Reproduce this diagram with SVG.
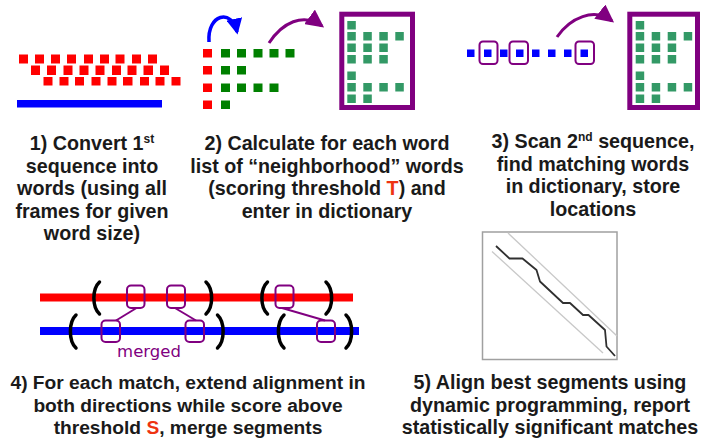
<svg xmlns="http://www.w3.org/2000/svg" width="704" height="441" viewBox="0 0 704 441">
<defs>
<style>
.red{fill:#ff0000}
.grn{fill:#008000}
.dg{fill:#339966}
.blu{fill:#0000ff}
.dict{fill:#ffffff;stroke:#800080;stroke-width:5}
.pbox{fill:none;stroke:#800080;stroke-width:2}
.plink{stroke:#800080;stroke-width:2;fill:none}
.brk{fill:none;stroke:#000;stroke-width:3.5;stroke-linecap:round}
.t{font-family:"Liberation Sans",Arial,sans-serif;font-weight:bold;font-size:19.7px;fill:#1a1a1a;text-anchor:middle}
.b4{font-size:19.2px}
.hl{fill:#ee3311}
.sup{font-size:12px}
.merged{font-family:"DejaVu Sans",sans-serif;font-size:16.5px;fill:#800080;text-anchor:middle}
</style>
<marker id="ahB" markerUnits="userSpaceOnUse" markerWidth="16" markerHeight="16" refX="10" refY="6" orient="auto" viewBox="0 0 12 12">
<path d="M0,0 L12,6 L0,12 z" fill="#0000ff"/>
</marker>
<marker id="ahP" markerUnits="userSpaceOnUse" markerWidth="18" markerHeight="18" refX="12" refY="7" orient="auto" viewBox="0 0 14 14">
<path d="M0,0 L14,7 L0,14 z" fill="#800080"/>
</marker>
<g id="dictSquares">
<rect x="0" y="0" width="8.5" height="8.5"/>
<rect x="0" y="11" width="8.5" height="8.5"/><rect x="16" y="11" width="8.5" height="8.5"/><rect x="32" y="11" width="8.5" height="8.5"/><rect x="48" y="11" width="8.5" height="8.5"/>
<rect x="0" y="22.5" width="8.5" height="8.5"/><rect x="16" y="22.5" width="8.5" height="8.5"/><rect x="32" y="22.5" width="8.5" height="8.5"/>
<rect x="0" y="34" width="8.5" height="8.5"/><rect x="16" y="34" width="8.5" height="8.5"/><rect x="32" y="34" width="8.5" height="8.5"/>
<rect x="0" y="50.5" width="8.5" height="8.5"/>
<rect x="0" y="62" width="8.5" height="8.5"/><rect x="16" y="62" width="8.5" height="8.5"/><rect x="32" y="62" width="8.5" height="8.5"/><rect x="48" y="62" width="8.5" height="8.5"/>
<rect x="0" y="73.5" width="8.5" height="8.5"/><rect x="16" y="73.5" width="8.5" height="8.5"/>
</g>
</defs>
<rect width="704" height="441" fill="#ffffff"/>

<!-- Step 1 -->
<g id="step1">
<g class="red">
<rect x="19" y="54.5" width="9" height="9"/><rect x="35" y="54.5" width="9" height="9"/><rect x="51" y="54.5" width="9" height="9"/><rect x="67" y="54.5" width="9" height="9"/><rect x="84" y="54.5" width="9" height="9"/><rect x="100" y="54.5" width="9" height="9"/><rect x="115.5" y="54.5" width="9" height="9"/><rect x="132" y="54.5" width="9" height="9"/><rect x="148" y="54.5" width="9" height="9"/>
<rect x="31" y="65.5" width="9" height="9.5"/><rect x="47" y="65.5" width="9" height="9.5"/><rect x="63.5" y="65.5" width="9" height="9.5"/><rect x="79.5" y="65.5" width="9" height="9.5"/><rect x="95.5" y="65.5" width="9" height="9.5"/><rect x="112" y="65.5" width="9" height="9.5"/><rect x="127.5" y="65.5" width="9" height="9.5"/><rect x="143.5" y="65.5" width="9.5" height="9.5"/><rect x="160" y="65.5" width="9" height="9.5"/>
<rect x="43.5" y="77" width="9" height="8.5"/><rect x="59.5" y="77" width="9" height="8.5"/><rect x="75" y="77" width="9" height="8.5"/><rect x="91.5" y="77" width="9" height="8.5"/><rect x="107.5" y="77" width="9" height="8.5"/><rect x="123" y="77" width="9.5" height="8.5"/><rect x="140" y="77" width="9" height="8.5"/><rect x="155.5" y="77" width="9" height="8.5"/><rect x="171.5" y="77" width="9" height="8.5"/>
</g>
<rect class="blu" x="17" y="100" width="145" height="7.5"/>
<text class="t" x="92" y="150">1) Convert 1<tspan class="sup" dy="-7">st</tspan></text>
<text class="t" x="92" y="172.5">sequence into</text>
<text class="t" x="92" y="195">words (using all</text>
<text class="t" x="92" y="217.5">frames for given</text>
<text class="t" x="92" y="240">word size)</text>
</g>

<!-- Step 2 -->
<g id="step2">
<g class="red">
<rect x="203" y="49" width="9" height="8.5"/><rect x="203" y="66" width="9" height="8.5"/><rect x="203" y="83.5" width="9" height="8.5"/><rect x="203" y="100.5" width="9" height="8.5"/>
</g>
<g class="grn">
<rect x="221" y="49" width="9" height="8.5"/><rect x="237" y="49" width="9" height="8.5"/><rect x="253.5" y="49" width="9" height="8.5"/><rect x="269.5" y="49" width="9" height="8.5"/><rect x="285.5" y="49" width="9" height="8.5"/>
<rect x="221" y="66" width="9" height="8.5"/><rect x="237" y="66" width="9" height="8.5"/>
<rect x="221" y="83.5" width="9" height="8.5"/><rect x="237" y="83.5" width="9" height="8.5"/><rect x="253.5" y="83.5" width="9" height="8.5"/><rect x="269.5" y="83.5" width="9" height="8.5"/>
<rect x="221" y="100.5" width="9" height="8.5"/>
</g>
<rect class="dict" x="341.8" y="14.2" width="70.7" height="93.3"/>
<use href="#dictSquares" x="347.3" y="21" class="dg"/>
<text class="t" x="327" y="150">2) Calculate for each word</text>
<text class="t" x="327" y="172.5">list of “neighborhood” words</text>
<text class="t" x="327" y="195">(scoring threshold <tspan class="hl">T</tspan>) and</text>
<text class="t" x="327" y="217.5">enter in dictionary</text>
</g>

<!-- Step 3 -->
<g id="step3">
<g class="blu">
<rect x="467" y="49.5" width="7.5" height="7.5"/><rect x="484" y="49.5" width="7.5" height="7.5"/><rect x="500" y="49.5" width="7.5" height="7.5"/><rect x="516" y="49.5" width="7.5" height="7.5"/><rect x="532" y="49.5" width="7.5" height="7.5"/><rect x="548" y="49.5" width="7.5" height="7.5"/><rect x="564" y="49.5" width="7.5" height="7.5"/><rect x="580.5" y="49.5" width="7.5" height="7.5"/>
</g>
<rect class="pbox" x="479.5" y="41.5" width="18" height="22.5" rx="3.5"/>
<rect class="pbox" x="509.5" y="41.5" width="18.5" height="22.5" rx="3.5"/>
<rect class="pbox" x="575.5" y="41.5" width="18.5" height="22.5" rx="3.5"/>
<rect class="dict" x="629.8" y="14.2" width="67.7" height="93.3"/>
<use href="#dictSquares" x="635.7" y="21" class="dg"/>
<text class="t" x="593" y="148">3) Scan 2<tspan class="sup" dy="-7">nd</tspan><tspan dy="7"> sequence,</tspan></text>
<text class="t" x="593" y="170.5">find matching words</text>
<text class="t" x="593" y="193">in dictionary, store</text>
<text class="t" x="593" y="215.5">locations</text>
</g>

<!-- Step 4 -->
<g id="step4">
<rect class="red" x="40" y="293.5" width="313" height="8"/>
<rect class="blu" x="40" y="327" width="319" height="8"/>
<path class="brk" d="M99.5,282 C92,289 92,307 99.5,314"/>
<path class="brk" d="M206,282 C213.5,289 213.5,307 206,314"/>
<path class="brk" d="M76,315 C68.5,322 68.5,341 76,348"/>
<path class="brk" d="M217.5,315 C225,322 225,341 217.5,348"/>
<path class="brk" d="M267.5,282 C260,289 260,307 267.5,314"/>
<path class="brk" d="M326,282 C333.5,289 333.5,307 326,314"/>
<path class="brk" d="M284,315 C276.5,322 276.5,341 284,348"/>
<path class="brk" d="M346,315 C353.5,322 353.5,341 346,348"/>
<rect class="pbox" x="127" y="285.5" width="17.5" height="22.5" rx="4"/>
<rect class="pbox" x="167" y="285.5" width="18" height="22.5" rx="4"/>
<rect class="pbox" x="101.5" y="320.5" width="18.5" height="21.5" rx="4"/>
<rect class="pbox" x="185.5" y="320.5" width="18.5" height="21.5" rx="4"/>
<rect class="pbox" x="275.5" y="285.5" width="18" height="22.5" rx="4"/>
<rect class="pbox" x="317" y="320.5" width="18" height="21.5" rx="4"/>
<text class="merged" x="149" y="357">merged</text>
<text class="t b4" x="188" y="389">4) For each match, extend alignment in</text>
<text class="t b4" x="188" y="411.5">both directions while score above</text>
<text class="t b4" x="188" y="434">threshold <tspan class="hl">S</tspan>, merge segments</text>
</g>

<!-- Step 5 -->
<g id="step5">
<rect x="482.5" y="232" width="134.5" height="127.5" fill="#ffffff" stroke="#a0a0a0" stroke-width="1.5"/>
<line x1="508" y1="233" x2="617" y2="336" stroke="#c8c8c8" stroke-width="1.3"/>
<line x1="492" y1="251.5" x2="603" y2="353" stroke="#c8c8c8" stroke-width="1.3"/>
<polyline points="496,246 509.5,258.5 522.5,258.5 536.5,270 540,281.5 563,303 570,303 583,315 588.5,315 605,330 606.5,346.5 615,356" fill="none" stroke="#303030" stroke-width="1.8" stroke-linejoin="round"/>
<text class="t" x="550" y="389">5) Align best segments using</text>
<text class="t" x="550" y="411.5">dynamic programming, report</text>
<text class="t" x="550" y="434">statistically significant matches</text>
</g>

<!-- Connectors -->
<g id="connectors">
<path d="M209,42 C207,14 232,8 237,32" fill="none" stroke="#0000ff" stroke-width="3.5" marker-end="url(#ahB)"/>
<path d="M269,43 C282,23 303,12 322,26" fill="none" stroke="#800080" stroke-width="3" marker-end="url(#ahP)"/>
<path d="M557,37 C570,18 594,7 612,21" fill="none" stroke="#800080" stroke-width="3" marker-end="url(#ahP)"/>
<line class="plink" x1="136.5" y1="308" x2="116" y2="320.5"/>
<line class="plink" x1="175" y1="308" x2="196" y2="320.5"/>
<line class="plink" x1="282" y1="308" x2="325" y2="320.5"/>
</g>
</svg>
